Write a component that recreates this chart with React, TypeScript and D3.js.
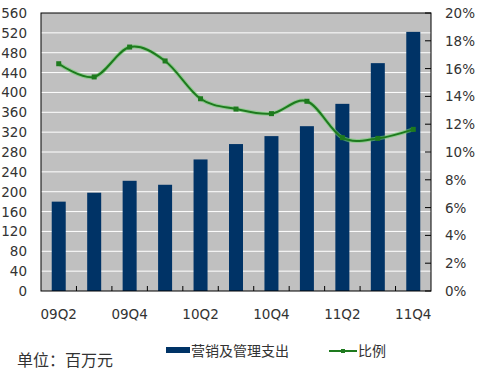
import React from "react";
import * as d3 from "d3";

const categories = ["09Q2","09Q3","09Q4","10Q1","10Q2","10Q3","10Q4","11Q1","11Q2","11Q3","11Q4"];
const expenses = [180, 198, 222, 214, 265, 296, 312, 332, 377, 459, 522];
const ratio = [16.35, 15.4, 17.55, 16.55, 13.83, 13.09, 12.76, 13.65, 11.03, 10.98, 11.63];
const leftTicks = d3.range(0, 561, 40);
const rightTicks = d3.range(0, 21, 2);
const xLabels = ["09Q2","09Q4","10Q2","10Q4","11Q2","11Q4"];

const W = 480, H = 376;
const L = 41, R = 431, T = 13, B = 291;
const FONT = "'DejaVu Sans', Verdana, sans-serif";
const CJK = "'Noto Sans CJK SC', sans-serif";
const TXT = "#333";

export default function App() {
  const xb = d3.scaleBand<string>().domain(categories).range([L, R]);
  const yL = d3.scaleLinear().domain([0, 560]).range([B, T]);
  const yR = d3.scaleLinear().domain([0, 20]).range([B, T]);
  const cx = (c: string) => (xb(c) as number) + xb.bandwidth() / 2;
  const line = d3.line<number>()
    .x((_, i) => cx(categories[i]))
    .y((d) => yR(d))
    .curve(d3.curveCatmullRom.alpha(0));
  const path = line(ratio) || "";
  return (
    <svg width={W} height={H} style={{ position: "absolute", left: 0, top: 0, background: "#fff" }}>
      <rect x={L} y={T} width={R - L} height={B - T} fill="#c0c0c0" />
      {leftTicks.filter((t) => t > 0 && t < 560).map((t) => (
        <line key={t} x1={L} x2={R} y1={yL(t)} y2={yL(t)} stroke="#fff" strokeWidth={1} />
      ))}
      {expenses.map((v, i) => (
        <rect key={i} x={cx(categories[i]) - 7} y={yL(v)} width={14} height={B - yL(v)} fill="#003366" />
      ))}
      {categories.slice(1).map((c) => (
        <line key={c} x1={xb(c) as number} x2={xb(c) as number} y1={B} y2={B - 5} stroke="#000" />
      ))}
      {rightTicks.map((t) => (
        <line key={t} x1={R - 6} x2={R} y1={yR(t)} y2={yR(t)} stroke="#000" />
      ))}
      <rect x={L} y={T} width={R - L} height={B - T} fill="none" stroke="#000" strokeWidth={1} />
      <path d={path} fill="none" stroke="#6fcf6f" strokeWidth={4} strokeOpacity={0.6} />
      <path d={path} fill="none" stroke="#1e7a1e" strokeWidth={2} />
      {ratio.map((v, i) => (
        <rect key={i} x={cx(categories[i]) - 2.5} y={yR(v) - 2.5} width={5} height={5} fill="#1e7a1e" />
      ))}
      {leftTicks.map((t) => (
        <text key={t} x={27} y={yL(t) + 5} textAnchor="end" fontFamily={FONT} fontSize={13.5} fill={TXT}>{t}</text>
      ))}
      {rightTicks.map((t) => (
        <text key={t} x={445} y={yR(t) + 5} textAnchor="start" fontFamily={FONT} fontSize={13.5} fill={TXT}>{t}%</text>
      ))}
      {xLabels.map((c) => (
        <text key={c} x={cx(c)} y={319} textAnchor="middle" fontFamily={FONT} fontSize={13.5} fill={TXT}>{c}</text>
      ))}
      <text x={17} y={366} fontFamily={CJK} fontSize={16} fill={TXT}>单位：百万元</text>
      <rect x={166} y={347} width={24} height={6} fill="#003366" />
      <text x={191} y={356} fontFamily={CJK} fontSize={14} fill={TXT}>营销及管理支出</text>
      <line x1={329} x2={357} y1={351} y2={351} stroke="#1e7a1e" strokeWidth={2} />
      <rect x={341} y={349} width={4} height={4} fill="#1e7a1e" />
      <text x={358} y={356} fontFamily={CJK} fontSize={14} fill={TXT}>比例</text>
    </svg>
  );
}
